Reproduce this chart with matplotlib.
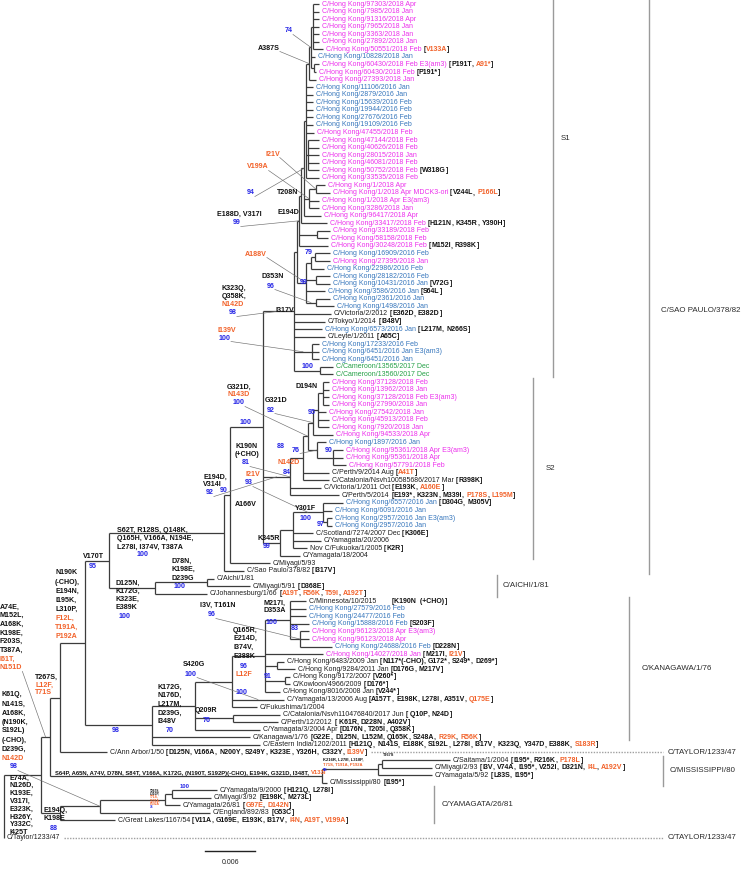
import matplotlib
matplotlib.use("Agg")
import matplotlib.pyplot as plt
from matplotlib.collections import LineCollection

plt.rcParams['font.family'] = ['Liberation Sans', 'DejaVu Sans']

# ---------------- data ----------------
# leaf labels, top to bottom (L0 .. L109)
LEAF_NAMES = [
    "C/Hong Kong/97303/2018 Apr", "C/Hong Kong/7985/2018 Jan", "C/Hong Kong/91316/2018 Apr",
    "C/Hong Kong/7965/2018 Jan", "C/Hong Kong/3363/2018 Jan", "C/Hong Kong/27892/2018 Jan",
    "C/Hong Kong/50551/2018 Feb", "C/Hong Kong/10828/2018 Jan", "C/Hong Kong/60430/2018 Feb E3(am3)",
    "C/Hong Kong/60430/2018 Feb", "C/Hong Kong/27393/2018 Jan",
    "C/Hong Kong/11106/2016 Jan", "C/Hong Kong/2879/2016 Jan", "C/Hong Kong/15639/2016 Feb",
    "C/Hong Kong/19944/2016 Feb", "C/Hong Kong/27676/2016 Feb", "C/Hong Kong/19109/2016 Feb",
    "C/Hong Kong/47455/2018 Feb", "C/Hong Kong/47144/2018 Feb", "C/Hong Kong/40626/2018 Feb",
    "C/Hong Kong/28015/2018 Jan", "C/Hong Kong/46081/2018 Feb", "C/Hong Kong/50752/2018 Feb",
    "C/Hong Kong/33535/2018 Feb", "C/Hong Kong/1/2018 Apr", "C/Hong Kong/1/2018 Apr MDCK3-ori",
    "C/Hong Kong/1/2018 Apr E3(am3)", "C/Hong Kong/3286/2018 Jan", "C/Hong Kong/96417/2018 Apr",
    "C/Hong Kong/33417/2018 Feb", "C/Hong Kong/33189/2018 Feb", "C/Hong Kong/58158/2018 Feb",
    "C/Hong Kong/30248/2018 Feb",
    "C/Hong Kong/16909/2016 Feb", "C/Hong Kong/27395/2018 Jan", "C/Hong Kong/22986/2016 Feb",
    "C/Hong Kong/28182/2016 Feb", "C/Hong Kong/10431/2016 Jan", "C/Hong Kong/3586/2016 Jan",
    "C/Hong Kong/2361/2016 Jan", "C/Hong Kong/1498/2016 Jan",
    "C/Victoria/2/2012", "C/Tokyo/1/2014", "C/Hong Kong/6573/2016 Jan", "C/Leyte/1/2011",
    "C/Hong Kong/17233/2016 Feb", "C/Hong Kong/6451/2016 Jan E3(am3)", "C/Hong Kong/6451/2016 Jan",
    "C/Cameroon/13565/2017 Dec", "C/Cameroon/13560/2017 Dec",
    "C/Hong Kong/37128/2018 Feb", "C/Hong Kong/13962/2018 Jan", "C/Hong Kong/37128/2018 Feb E3(am3)",
    "C/Hong Kong/27990/2018 Jan", "C/Hong Kong/27542/2018 Jan", "C/Hong Kong/45913/2018 Feb",
    "C/Hong Kong/7920/2018 Jan", "C/Hong Kong/94533/2018 Apr", "C/Hong Kong/1897/2016 Jan",
    "C/Hong Kong/95361/2018 Apr E3(am3)", "C/Hong Kong/95361/2018 Apr", "C/Hong Kong/57791/2018 Feb",
    "C/Perth/9/2014 Aug", "C/Catalonia/Nsvh100585686/2017 Mar", "C/Victoria/1/2011 Oct",
    "C/Perth/5/2014",
    "C/Hong Kong/6557/2016 Jan", "C/Hong Kong/6091/2016 Jan", "C/Hong Kong/2957/2016 Jan E3(am3)",
    "C/Hong Kong/2957/2016 Jan", "C/Scotland/7274/2007 Dec", "C/Yamagata/20/2006",
    "Nov C/Fukuoka/1/2005", "C/Yamagata/18/2004", "C/Miyagi/5/93", "C/Sao Paulo/378/82",
    "C/Aichi/1/81", "C/Miyagi/5/91", "C/Johannesburg/1/66",
    "C/Minnesota/10/2015", "C/Hong Kong/27579/2016 Feb", "C/Hong Kong/24477/2016 Feb",
    "C/Hong Kong/15888/2016 Feb", "C/Hong Kong/96123/2018 Apr E3(am3)", "C/Hong Kong/96123/2018 Apr",
    "C/Hong Kong/24688/2016 Feb", "C/Hong Kong/14027/2018 Jan",
    "C/Hong Kong/6483/2009 Jan", "C/Hong Kong/9284/2011 Jan", "C/Hong Kong/9172/2007",
    "C/Kowloon/4966/2009", "C/Hong Kong/8016/2008 Jan", "C/Yamagata/13/2006 Aug",
    "C/Fukushima/1/2004", "C/Catalonia/Nsvh110476840/2017 Jun", "C/Perth/12/2012",
    "C/Yamagata/3/2004 Apr", "C/Kanagawa/1/76", "C/Eastern India/1202/2011", "C/Ann Arbor/1/50",
    "C/Saitama/1/2004", "C/Miyagi/2/93", "C/Yamagata/5/92", "C/Mississippi/80",
    "C/Yamagata/9/2000", "C/Miyagi/3/92", "C/Yamagata/26/81", "C/England/892/83",
    "C/Great Lakes/1167/54", "C/Taylor/1233/47",
]
assert len(LEAF_NAMES) == 110

# m = HK 2018, b = HK 2016, g = Cameroon, k = reference strains
LEAF_GROUPS = ("mmmmmmm" "b" "mmm" "bbbbbb" "mmmmmmmmmmmmmmmm" "b" "m" "bbbbbb"
               "kkbk" "bbb" "gg" "mmmmmmmm" "b" "mmm" "kkkk" "bbbb" "kkkkkkkkkk"
               "bbb" "mm" "b" "m" "kkkkkkkkkkkkkkkkkkkkkkk")

# substitutions shown after a leaf ("!" = orange)
LEAF_MUTS = {
    6: "!V133A", 8: "P191T, !A91*", 9: "P191*", 22: "W318G", 25: "V244L, !P166L",
    29: "H121N, K345R, Y390H", 32: "M152I, R398K", 37: "V72G", 38: "S64L",
    41: "E362D, E382D", 42: "I348V", 43: "L217M, N266S", 44: "A65C",
    62: "!A41T", 63: "R398K", 64: "E193K, !A160E", 65: "E193*, K323N, M339I, !P178S, !L195M",
    66: "D304G, M305V", 70: "K306E", 72: "K2R", 75: "I317V", 77: "D368E",
    78: "!A19T, !R56K, !T59I, !A192T", 79: "K190N  (+CHO)", 82: "S203F", 85: "D228N",
    86: "M217I, !I21V", 87: "N117*(-CHO), G172*, S249*, D269*", 88: "D176G, M217V",
    89: "V260*", 90: "D176*", 91: "V244*", 92: "A157T, E198K, L278I, A351V, !Q175E",
    94: " Q10P, N24D", 95: " K61R, D228N, A402V", 96: "D176N, T205I, Q358K",
    97: "G22E, D125N, L152M, Q165K, S248A, !R29K, !R56K",
    98: "H121Q, N141S, E188K, S192L, L278I, I317V, K323Q, Y347D, E388K, !S183R",
    99: "D125N, V166A, N200Y, S249Y, K323E, Y326H, C332Y, !I139V",
    100: "I195*, R216K, !P178L", 101: "I3V, V74A, I195*, V252I, D321N, !I4L, !A192V",
    102: "L83S, I195*", 103: "I195*", 104: "H121Q, L278I", 105: "E198K, M273L",
    106: "!G97E, !D142N", 107: "G53C", 108: "V11A, G169E, E193K, I317V, !I4N, !A19T, !V199A",
}

# tree: parent: child length, ...  (length unit = 0.006/50 substitutions/site)
TREE = """
R: N41 37, L109 0
N41: N50 9, NYamGL 19
N50: N60 10, NMiss 272
N60: N85 25, L99 47
N85: N109 24, NKan 67
N109: NSP0 115, NAichi 46
NSP0: NSP1 6, L75 20
NSP1: N263 33, L74 40
N263: NSPb 31, NS2 27, NK345 17
NSPb: NSPc 3, L41 37, L42 31, L43 28, L44 31, N17233 18, NCam 26
NSPc: S1r 2, N2016 9
S1r: S1a 2, N33189 18, L32 29
S1a: S1b 3, L29 26
S1b: S1c 2, NT208 5, L28 17
S1c: NA387S 3, L11 7, L12 7, L13 7, L14 7, L15 7, L16 7, L17 8, N308 2, L23 13
NA387S: N74 2, L10 7
N74: N312 2, L7 4, N60430 3
N312: L0 6, L1 6, L2 6, L3 6, L4 6, L5 6, L6 10
N60430: L8 5, L9 2
N308: L18 11, L19 11, L20 11, L21 11, L22 11
NT208: N1a 7, L26 10, L27 10
N1a: L24 9, L25 14
N33189: L30 13, L31 11
N2016: N79 5, N28182 10, L38 19, N2361 10
N79: N16909 4, L35 13
N16909: L33 15, L34 15
N28182: L36 14, L37 14
N2361: L39 14, L40 18
N17233: L45 7, L46 7, L47 7
NCam: L48 13, L49 13
NS2: NS2b 13, L64 31, L65 49
NS2b: NS2c 5, L62 26, L63 26
NS2c: N313 5, N76 9
N313: N319 5, L57 20
N319: ND194N 5, L54 8, L55 11, L56 11
ND194N: L50 6, L51 6, L52 6, L53 6
N76: L58 9, N90 16
N90: L59 10, L60 10, L61 13
NK345: N293 13, L73 20
N293: NY301F 30, L70 20, L71 28, L72 14
NY301F: L66 20, L67 9, N2957 4
N2957: L68 5, L69 5
NAichi: NAichi2 52, L78 52
NAichi2: L76 7, L77 43
NKan: NQ209R 43, L97 98, L98 108
NQ209R: N232 37, N233b 38, L96 65
N232: N265 33, L92 52, L93 25
N265: NM217I 25, L86 58, N277 12, N285 20, L91 15
NM217I: L79 16, L80 16, L81 16, L82 19, N83 10
N83: L83 9, L84 9, L85 32
N277: L87 7, L88 18
N285: L89 5, L90 5
N233b: L94 47, L95 45
NMiss: NMissB 56, L103 5
NMissB: NMissC 4, L102 54
NMissC: L100 68, L101 50
NYamGL: NYam 40, L108 55
NYam: NYam2 65, L107 110
NYam2: NYam3 7, L106 15
NYam3: L104 45, L105 39
"""
UNIT_SUBS = 0.006 / 50
SCALE_SUBS = 0.006

# branch annotations: colour:text, "|" joins runs, newline = next line
NOTES = {
    "a387s": "k:A387S", "bs74": "b:74", "i21v_a": "o:I21V", "v199a": "o:V199A",
    "t208n": "k:T208N", "bs94": "b:94", "e194d_a": "k:E194D", "e188d": "k:E188D, V317I",
    "bs99_a": "b:99", "a188v": "o:A188V", "bs79": "b:79", "bs99_b": "b:99",
    "d353n": "k:D353N", "bs96_a": "b:96", "k323q": "k:K323Q,\nk:Q358K,\no:N142D",
    "bs98_a": "b:98", "i317v": "k:I317V", "i139v": "o:I139V", "bs100_a": "b:100",
    "bs100_cam": "b:100", "d194n": "k:D194N", "g321d_a": "k:G321D,\no:N143D",
    "bs100_b": "b:100", "g321d_b": "k:G321D", "bs92_a": "b:92", "bs95_a": "b:95",
    "bs100_c": "b:100", "bs88_a": "b:88", "bs76_a": "b:76", "n142d_a": "o:N142D",
    "bs84": "b:84", "bs90_a": "b:90", "k190n": "k:K190N\nk:(+CHO)", "bs81": "b:81",
    "i21v_b": "o:I21V", "bs93": "b:93", "e194d_b": "k:E194D,\nk:V314I", "bs92_b": "b:92",
    "bs90_b": "b:90", "a166v": "k:A166V", "y301f": "k:Y301F", "bs100_d": "b:100",
    "bs97": "b:97", "k345r": "k:K345R", "bs99_c": "b:99",
    "s62t": "k:S62T, R128S, Q148K,\nk:Q165H, V166A, N194E,\nk:L278I, I374V, T387A",
    "bs100_e": "b:100", "v170t": "k:V170T", "bs95_b": "b:95",
    "d78n": "k:D78N,\nk:K198E,\nk:D239G", "bs100_f": "b:100",
    "d125n": "k:D125N,\nk:K172G,\nk:K323E,\nk:E389K", "bs100_g": "b:100",
    "n190k": "k:N190K\nk:(-CHO),\nk:E194N,\nk:I195K,\nk:L310P,\no:F12L,\no:T191A,\no:P192A",
    "a74e": "k:A74E,\nk:M152L,\nk:A168K,\nk:K198E,\nk:F203S,\nk:T387A,\no:I61T,\no:N151D",
    "t267s_a": "k:T267S,\no:L12F,\no:T71S",
    "k61q": "k:K61Q,\nk:N141S,\nk:A168K,\nk:(N190K,\nk:S192L)\nk:(-CHO),\nk:D239G,\no:N142D",
    "bs98_b": "b:98",
    "e74a": "k:E74A,\nk:N126D,\nk:K193E,\nk:V317I,\nk:E323K,\nk:H326Y,\nk:Y332C,\nk:I425T",
    "e194q": "k:E194Q,\nk:K198E", "bs88_b": "b:88", "bs98_c": "b:98",
    "k172g": "k:K172G,\nk:N176D,\nk:L217M,\nk:D239G,\nk:I348V", "bs70": "b:70",
    "q209r": "k:Q209R", "bs76_b": "b:76", "s420g": "k:S420G", "bs100_h": "b:100",
    "l12f": "o:L12F", "bs100_i": "b:100", "q165r": "k:Q165R,\nk:E214D,\nk:I374V,\nk:E388K",
    "bs96_b": "b:96", "bs91": "b:91", "i3v": "k:I3V, T161N", "bs96_c": "b:96",
    "m217i": "k:M217I,\nk:D353A", "bs100_j": "b:100", "bs83": "b:83",
    "miss": "k:S64P, A65N, A74V, D78N, S84T, V166A, K172G, (N190T, S192P)(-CHO), "
            "E194K, G321D, I348T, |o:V133I",
    "bs100_miss": "b:100",
    "miss2": "k:K216R, L278I, L310P,\no:T71S, T191A, P192A\nb:98",
    "miss3": "k:T267S",
    "yam76": "k:T267S,\nk:L310P,\no:T71S,\no:T191A,\no:P192A\nb:76",
}

CLADE_NAMES = ["S1", "S2", "C/SAO PAULO/378/82", "C/AICHI/1/81", "C/KANAGAWA/1/76",
               "C/MISSISSIPPI/80", "C/YAMAGATA/26/81"]
CLADE_FIRST = [0, 50, 0, 76, 79, 100, 104]
CLADE_LAST = [49, 73, 75, 78, 97, 103, 108]
TAYLOR_NAME = "C/TAYLOR/1233/47"
TAYLOR_LEAVES = [99, 109]

# ---------------- layout / style ----------------
W, H = 744, 876
ROOT_X = 4
PX_PER_UNIT = 1.0
ROW0, ROW_H = 4, 7.56
ROW_SHIFT = {"L109": 1.3}
LABEL_PAD = 3
MUT_GAP = {79: "       "}
LEAF_SIZE = 5.0
NOTE_SIZE_DEFAULT = 5.1
CLADE_SIZE = 5.7
GROUP_COLORS = {"m": "#EC2FEC", "b": "#3676BC", "g": "#24A046", "k": "#1E1E1E"}
RUN_COLORS = {"k": "#111111", "o": "#F2622A", "b": "#2424E6"}
LINE_COLOR = "#3C3C3C"

NOTE_POS = {
    "a387s": (258, 48), "bs74": (285, 31), "i21v_a": (265, 154), "v199a": (247, 167),
    "t208n": (277, 192), "bs94": (247, 193), "e194d_a": (277, 212), "e188d": (217, 214),
    "bs99_a": (233, 223), "a188v": (245, 254), "bs79": (305, 253), "bs99_b": (300, 283),
    "d353n": (262, 277), "bs96_a": (267, 286), "k323q": (222, 289), "bs98_a": (229, 313),
    "i317v": (275, 310), "i139v": (217, 330), "bs100_a": (219, 338), "bs100_cam": (302, 366),
    "d194n": (295, 387), "g321d_a": (227, 387), "bs100_b": (233, 403), "g321d_b": (265, 400),
    "bs92_a": (267, 410), "bs95_a": (308, 412), "bs100_c": (240, 422), "bs88_a": (277, 446),
    "bs76_a": (292, 450), "n142d_a": (277, 462), "bs84": (283, 472), "bs90_a": (325, 450),
    "k190n": (235, 447), "bs81": (242, 463), "i21v_b": (245, 474), "bs93": (245, 483),
    "e194d_b": (203, 477), "bs92_b": (206, 493), "bs90_b": (220, 491), "a166v": (235, 505),
    "y301f": (295, 508), "bs100_d": (300, 518), "bs97": (317, 525), "k345r": (257, 538),
    "bs99_c": (263, 547), "s62t": (117, 530), "bs100_e": (137, 555), "v170t": (83, 557),
    "bs95_b": (89, 566), "d78n": (172, 561), "bs100_f": (174, 587), "d125n": (115, 583),
    "bs100_g": (119, 617), "n190k": (55, 573), "a74e": (0, 607), "t267s_a": (35, 677),
    "k61q": (2, 695), "bs98_b": (10, 767), "e74a": (10, 778), "e194q": (44, 810),
    "bs88_b": (50, 828), "bs98_c": (112, 731), "k172g": (157, 687), "bs70": (166, 731),
    "q209r": (195, 711), "bs76_b": (203, 721), "s420g": (183, 665), "bs100_h": (185, 674),
    "l12f": (236, 675), "bs100_i": (236, 692), "q165r": (233, 630), "bs96_b": (240, 666),
    "bs91": (264, 677), "i3v": (200, 605), "bs96_c": (208, 615), "m217i": (263, 603),
    "bs100_j": (266, 622), "bs83": (291, 628), "miss": (55, 773), "bs100_miss": (180, 786),
    "miss2": (323, 759), "miss3": (383, 755), "yam76": (150, 790),
}
NOTE_STEP = {"n190k": 9, "a74e": 8.7, "k61q": 9, "e74a": 7.8, "e194q": 9, "k172g": 8.7,
             "q165r": 8.7, "d78n": 8.5, "d125n": 8.2, "s62t": 8.5, "miss2": 5.5, "yam76": 3.4}
NOTE_SIZE = {"miss": 4.2, "bs100_miss": 4.2, "miss2": 3.0, "miss3": 2.8, "yam76": 2.3}
LEADERS = {
    "bs74": ("N74", "n"), "a387s": ("NA387S", "n"), "i21v_a": ("N1a", "n"),
    "v199a": ("NT208", "n"), "bs94": ("S1b", "n"), "bs99_a": ("S1r", "n"),
    "a188v": ("N2016", "n"), "bs96_a": ("N2361", "h"), "bs98_a": ("NSPb", "h"),
    "bs100_a": ("N17233", "h"), "bs100_b": ("NS2c", "n"), "bs92_a": ("N313", "n"),
    "bs81": ("NS2", "n"), "bs93": ("NY301F", "h"), "bs92_b": ("NS2", "h"),
    "a74e": ("N50", "h"), "bs98_b": ("NYam", "n"), "bs100_h": ("L92", "h"),
    "bs96_c": ("N83", "n"), "bs76_a": ("N76", "n"),
}
CLADE_BAR_X = [553, 533, 649, 497, 629, 663, 434]
CLADE_LABEL_X = [561, 546, 661, 503, 642, 670, 442]
CLADE_LABEL_Y = {0: 138, 2: 310}
TAYLOR_BAR_END, TAYLOR_LABEL_X = 663, 668
SCALE_X, SCALE_Y = 205, 851

# ---------------- tree layout ----------------
children, blen, parent = {}, {}, {}
for line in TREE.strip().splitlines():
    p, rest = line.split(":")
    p = p.strip()
    kids = []
    for item in rest.split(","):
        name, length = item.split()
        kids.append(name)
        blen[name] = float(length)
        parent[name] = p
    children[p] = kids

pos_x, pos_y, leaf_order = {}, {}, []


def place(node, x):
    pos_x[node] = x
    kids = children.get(node, [])
    if not kids:
        i = len(leaf_order)
        leaf_order.append(node)
        pos_y[node] = ROW0 + ROW_H * (i + ROW_SHIFT.get(node, 0))
        return
    for k in kids:
        place(k, x + blen[k] * PX_PER_UNIT)
    pos_y[node] = (pos_y[kids[0]] + pos_y[kids[-1]]) / 2


place("R", ROOT_X)

fig = plt.figure(figsize=(W / 100, H / 100), dpi=100)
ax = fig.add_axes([0, 0, 1, 1])
ax.set_xlim(0, W)
ax.set_ylim(H, 0)
ax.axis("off")

segs = []
for node, p in parent.items():
    segs.append([(pos_x[p], pos_y[node]), (pos_x[node], pos_y[node])])
for node, kids in children.items():
    segs.append([(pos_x[node], pos_y[kids[0]]), (pos_x[node], pos_y[kids[-1]])])
ax.add_collection(LineCollection(segs, colors=LINE_COLOR, linewidths=0.9, capstyle="butt"))


def draw_runs(x, y, runs, size):
    art = None
    for text, color, bold in runs:
        kw = dict(fontsize=size, color=color, fontweight="bold" if bold else "normal")
        if art is None:
            art = ax.text(x, y, text, ha="left", va="center", **kw)
        else:
            art = ax.annotate(text, xy=(1, 0), xycoords=art, ha="left", va="bottom", **kw)
    return art


# leaf labels
leaf_art = {}
for node in leaf_order:
    i = int(node[1:])
    runs = [(LEAF_NAMES[i] + MUT_GAP.get(i, ""), GROUP_COLORS[LEAF_GROUPS[i]], False)]
    if i in LEAF_MUTS:
        runs.append((" [", RUN_COLORS["k"], True))
        items = LEAF_MUTS[i].split(", ")
        for j, m in enumerate(items):
            lead = " " if m.startswith(" ") else ""
            m = m.strip()
            if m.startswith("!"):
                if lead:
                    runs.append((lead, RUN_COLORS["k"], True))
                runs.append((m[1:], RUN_COLORS["o"], True))
            else:
                runs.append((lead + m, RUN_COLORS["k"], True))
            if j < len(items) - 1:
                runs.append((", ", RUN_COLORS["k"], True))
        runs.append(("]", RUN_COLORS["k"], True))
    leaf_art[i] = draw_runs(pos_x[node] + LABEL_PAD, pos_y[node], runs, LEAF_SIZE)

# branch annotations
note_last = {}
for key, text in NOTES.items():
    x, y = NOTE_POS[key]
    step = NOTE_STEP.get(key, 8)
    size = NOTE_SIZE.get(key, NOTE_SIZE_DEFAULT)
    last = None
    for k, line in enumerate(text.split("\n")):
        runs = []
        for part in line.split("|"):
            c, t = part.split(":", 1)
            runs.append((t, RUN_COLORS[c], True))
        last = draw_runs(x, y + k * step, runs, size)
    note_last[key] = last

# clade bars
for c, name in enumerate(CLADE_NAMES):
    y0 = ROW0 + ROW_H * CLADE_FIRST[c] - 4
    y1 = ROW0 + ROW_H * CLADE_LAST[c] + 3
    ax.plot([CLADE_BAR_X[c]] * 2, [max(y0, 0), y1], color="#9A9A9A", lw=1.0)
    ly = CLADE_LABEL_Y.get(c, (y0 + y1) / 2)
    ax.text(CLADE_LABEL_X[c], ly, name, fontsize=CLADE_SIZE, color="#2A2A2A",
            va="center", ha="left")

# scale bar
scale_px = SCALE_SUBS / UNIT_SUBS * PX_PER_UNIT
ax.plot([SCALE_X, SCALE_X + scale_px], [SCALE_Y, SCALE_Y], color="#222222", lw=1.0)
ax.text(SCALE_X + scale_px / 2, SCALE_Y + 12, f"{SCALE_SUBS:.3f}", fontsize=5.0,
        ha="center", va="center", color="#222222")

# leaders and dotted lineage guides need rendered text extents
fig.canvas.draw()
renderer = fig.canvas.get_renderer()
inv = ax.transData.inverted()
for key, (node, mode) in LEADERS.items():
    bb = note_last[key].get_window_extent(renderer)
    sx, sy = inv.transform((bb.x1, bb.y0))
    if mode == "n":
        tx, ty = pos_x[node], pos_y[node]
    else:
        tx, ty = (pos_x[parent[node]] + pos_x[node]) / 2, pos_y[node]
    ax.plot([sx, tx], [sy, ty], color="#6E6E6E", lw=0.45)

for i in TAYLOR_LEAVES:
    bb = leaf_art[i].get_window_extent(renderer)
    ex, _ = inv.transform((bb.x1, bb.y0))
    y = ROW0 + ROW_H * (i + ROW_SHIFT.get("L%d" % i, 0))
    ax.plot([ex + 4, TAYLOR_BAR_END], [y, y], color="#A0A0A0", lw=1.0, ls=(0, (1, 1)))
    ax.text(TAYLOR_LABEL_X, y, TAYLOR_NAME, fontsize=CLADE_SIZE, color="#2A2A2A",
            va="center", ha="left")

fig.savefig("out.png", dpi=100)
